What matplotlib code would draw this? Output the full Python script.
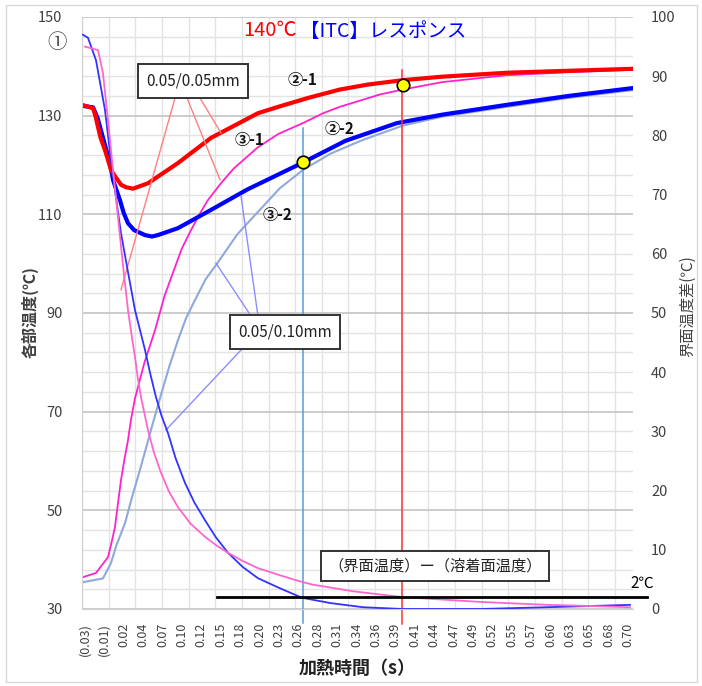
import numpy as np
import matplotlib

matplotlib.use("Agg")
import matplotlib.pyplot as plt
from matplotlib.patches import Rectangle

plt.rcParams["font.family"] = ["Noto Sans CJK JP", "DejaVu Sans"]

# ---- data (time in s) ----
# left axis: temperatures (degC)
red_t = [-0.034, -0.0192, -0.016, -0.0125, -0.009, -0.0031, 0.0, 0.0049, 0.010, 0.0184,
         0.025, 0.0345, 0.0547, 0.095, 0.1394, 0.2025, 0.2321, 0.27, 0.3127, 0.35,
         0.3974, 0.45, 0.5372, 0.62, 0.7066]
red_v = [132.2, 131.5, 130.0, 127.7, 125.5, 123.0, 121.5, 119.0, 117.8, 116.0,
         115.5, 115.2, 116.3, 120.4, 125.5, 130.5, 131.9, 133.6, 135.3, 136.3,
         137.2, 137.9, 138.7, 139.1, 139.5]

blue_t = [-0.034, -0.0192, -0.013, -0.0085, -0.003, 0.0036, 0.008, 0.017, 0.022, 0.0278,
          0.036, 0.0506, 0.06, 0.0681, 0.095, 0.1394, 0.1877, 0.263, 0.32, 0.3894,
          0.45, 0.5372, 0.62, 0.7066]
blue_v = [132.0, 131.7, 129.5, 127.0, 124.0, 120.4, 116.8, 112.9, 110.3, 108.2,
          106.8, 105.8, 105.5, 105.8, 107.2, 110.9, 115.0, 120.5, 124.9, 128.5,
          130.2, 132.2, 134.0, 135.6]

mag_t = [-0.034, -0.0152, 0.0009, 0.005, 0.0103, 0.014, 0.0184, 0.023, 0.0278, 0.032,
         0.0372, 0.05, 0.0641, 0.077, 0.091, 0.10, 0.1125, 0.125, 0.1353, 0.1528,
         0.17, 0.2025, 0.23, 0.263, 0.29, 0.3127, 0.3665, 0.3974, 0.45, 0.5372,
         0.62, 0.7066]
mag_v = [36.4, 37.3, 40.5, 43.0, 46.6, 51.0, 56.1, 60.3, 64.2, 68.5,
         72.7, 80.0, 86.5, 93.5, 99.3, 103.0, 106.8, 110.3, 112.9, 116.3,
         119.3, 123.6, 126.3, 128.5, 130.5, 131.8, 134.3, 135.3, 136.8, 138.2,
         138.8, 139.3]

lblue_t = [-0.034, -0.0058, 0.0049, 0.012, 0.0238, 0.032, 0.0412, 0.050, 0.0587, 0.0708,
           0.083, 0.095, 0.106, 0.1178, 0.132, 0.1488, 0.175, 0.2025, 0.232, 0.263,
           0.30, 0.3437, 0.3974, 0.45, 0.5372, 0.62, 0.7066]
lblue_v = [35.4, 36.2, 39.3, 42.8, 47.4, 52.0, 56.8, 61.5, 66.3, 72.7,
           79.0, 84.5, 89.0, 92.6, 96.8, 100.3, 106.0, 110.5, 115.3, 119.0,
           122.3, 125.1, 128.0, 129.8, 131.8, 133.6, 135.2]

# right axis: interface temperature difference (degC)
dblue_t = [-0.0327, -0.026, -0.0152, -0.0031, 0.0049, 0.0144, 0.0184, 0.028, 0.0372,
           0.0506, 0.058, 0.0654, 0.073, 0.0816, 0.092, 0.1044, 0.117, 0.1313, 0.146,
           0.1622, 0.182, 0.2025, 0.2321, 0.2617, 0.30, 0.3437, 0.3974, 0.5009,
           0.591, 0.7025]
dblue_v = [97.0, 96.5, 92.7, 84.3, 75.8, 67.0, 63.5, 56.8, 50.5,
           43.8, 39.6, 35.8, 32.6, 29.7, 25.4, 21.3, 18.0, 15.0, 12.1,
           9.5, 7.1, 5.2, 3.5, 1.9, 1.0, 0.3, 0.0, 0.0,
           0.3, 0.7]

dmag_t = [-0.030, -0.0125, -0.0058, 0.0009, 0.0076, 0.0144, 0.017, 0.022, 0.0278,
          0.033, 0.0372, 0.041, 0.0453, 0.0547, 0.063, 0.0722, 0.083, 0.095, 0.112,
          0.1313, 0.147, 0.1622, 0.182, 0.2025, 0.2321, 0.255, 0.2765, 0.33, 0.3974,
          0.45, 0.5009, 0.591, 0.65, 0.7025]
dmag_v = [95.0, 94.4, 90.5, 82.6, 74.2, 66.2, 63.0, 57.0, 50.5,
          46.0, 42.6, 39.0, 35.8, 30.2, 26.3, 23.0, 19.8, 17.2, 14.4,
          12.2, 10.7, 9.5, 8.1, 6.9, 5.7, 4.8, 4.1, 3.0, 2.0,
          1.6, 1.2, 0.7, 0.5, 0.3]

# highlighted points
dot_t = [0.263, 0.3974]
dot_v = [120.6, 136.2]
blue_mark_t = 0.263
red_mark_t = 0.3961
limit_diff = 2.0

tick_labels = ["(0.03)", "(0.01)", "0.02", "0.04", "0.07", "0.10", "0.12", "0.15",
               "0.18", "0.20", "0.23", "0.26", "0.28", "0.31", "0.34", "0.36",
               "0.39", "0.41", "0.44", "0.47", "0.49", "0.52", "0.55", "0.57",
               "0.60", "0.63", "0.65", "0.68", "0.70"]

# leader lines: (box point) -> (curve point), left-axis units
red_leaders = [((0.0911, 133.6), (0.0184, 94.7)),
               ((0.1071, 133.6), (0.1515, 117.0)),
               ((0.1246, 133.6), (0.1528, 126.5))]
blue_leaders = [((0.2025, 89.4), (0.1797, 113.7)),
                ((0.1931, 89.4), (0.1461, 100.1)),
                ((0.1810, 82.7), (0.0789, 66.3))]

TXT = "#404040"
XMIN, XMAX = -0.034, 0.7066

fig = plt.figure(figsize=(7.02, 6.86), dpi=100)
ax = fig.add_axes([82 / 702, 1 - 609 / 686, 551 / 702, 592 / 686])
ax2 = ax.twinx()

# grid
ax.set_xlim(XMIN, XMAX)
ax.set_ylim(30, 150)
ax2.set_ylim(0, 100)
ax.set_yticks(np.arange(30, 151, 20))
ax.set_yticks(np.arange(30, 151, 4), minor=True)
ax.set_xticks(np.arange(XMIN, XMAX, 0.03582), minor=True)
ax.grid(True, which="minor", color="#E3E3E3", lw=1.0)
ax.grid(True, which="major", axis="y", color="#C8C8C8", lw=1.3)
ax.set_axisbelow(True)
ax.tick_params(which="minor", length=0)

ax.set_xticks(np.linspace(-0.03, 0.70, len(tick_labels)))
ax.set_xticklabels(tick_labels, rotation=90, fontsize=9, color=TXT)
ax.tick_params(axis="x", which="major", length=0, pad=10)
ax.tick_params(axis="y", which="major", length=0, pad=14, labelsize=10.5, labelcolor=TXT)
ax2.set_yticks(np.arange(0, 101, 10))
ax2.tick_params(axis="y", length=0, pad=13, labelsize=10.5, labelcolor=TXT)
for a in (ax, ax2):
    for s in a.spines.values():
        s.set_visible(False)
ax.spines["bottom"].set_visible(True)
ax.spines["bottom"].set_color("#D0D0D0")
ax.spines["left"].set_visible(True)
ax.spines["left"].set_color("#D0D0D0")

# curves
ax.plot(lblue_t, lblue_v, color="#8EA9DB", lw=1.5)
ax.plot(mag_t, mag_v, color="#FF22CC", lw=1.3)
ax.plot(blue_t, blue_v, color="#0000FF", lw=3.0, solid_capstyle="round", solid_joinstyle="round")
ax.plot(red_t, red_v, color="#FF0000", lw=3.0, solid_capstyle="round", solid_joinstyle="round")
ax2.plot(dblue_t, dblue_v, color="#3333FF", lw=1.3)
ax2.plot(dmag_t, dmag_v, color="#FF66CC", lw=1.3)

# marker lines
ax.plot([blue_mark_t, blue_mark_t], [127.5, 27.2], color="#5B9BD5", lw=1.1, clip_on=False)
ax.plot([red_mark_t, red_mark_t], [139.3, 27.0], color="#FF3333", lw=1.1, clip_on=False)
ax2.plot([0.1474, 0.7254], [limit_diff, limit_diff], color="black", lw=2.0, clip_on=False)
ax.plot(dot_t, dot_v, "o", ms=9, mfc="#FFFF00", mec="black", mew=1.2, zorder=6)

for (x0, y0), (x1, y1) in red_leaders:
    ax.plot([x0, x1], [y0, y1], color="#FF8080", lw=1.0)
for (x0, y0), (x1, y1) in blue_leaders:
    ax.plot([x0, x1], [y0, y1], color="#8C8CFF", lw=1.0)

box = dict(boxstyle="square,pad=0.55", fc="white", ec="#333333", lw=1.4)
ax.text(0.1152, 137.0, "0.05/0.05mm", fontsize=11, ha="center", va="center",
        color="#222222", bbox=box, zorder=7)
ax.text(0.2388, 86.1, "0.05/0.10mm", fontsize=11, ha="center", va="center",
        color="#222222", bbox=box, zorder=7)
ax2.text(0.4404, 7.26, "（界面温度）ー（溶着面温度）", fontsize=11, ha="center", va="center",
         color="#222222", bbox=dict(boxstyle="square,pad=0.45", fc="white", ec="#333333", lw=1.4),
         zorder=7)
ax2.text(0.7187, 4.3, "2℃", fontsize=11, ha="center", va="center", clip_on=False)

for lab, tx, ty in [("②-1", 0.263, 137.2), ("③-1", 0.1918, 125.1),
                    ("②-2", 0.3127, 127.3), ("③-2", 0.2294, 109.9)]:
    ax.text(tx, ty, lab, fontsize=11, fontweight="bold", ha="center", va="center",
            color="#111111", zorder=7)

# titles / labels
fig.text(297 / 702, 1 - 31 / 686, "140℃", color="#FF0000", fontsize=14.5,
         ha="right", va="center")
fig.text(300 / 702, 1 - 31 / 686, "【ITC】レスポンス", color="#0000FF", fontsize=14,
         ha="left", va="center")
fig.text(57 / 702, 1 - 42 / 686, "①", color=TXT, fontsize=14, ha="center", va="center")
fig.text(30 / 702, 1 - 312 / 686, "各部温度(℃)", rotation=90, fontsize=11.5,
         fontweight="bold", color=TXT, ha="center", va="center")
fig.text(688 / 702, 1 - 306 / 686, "界面温度差(℃)", rotation=90, fontsize=11,
         color=TXT, ha="center", va="center")
fig.text(357 / 702, 1 - 668 / 686, "加熱時間（s）", fontsize=13, fontweight="bold",
         color="#222222", ha="center", va="center")

fig.patches.append(Rectangle((6 / 702, 4 / 686), 691 / 702, 677 / 686,
                             transform=fig.transFigure, fill=False,
                             ec="#D9D9D9", lw=1.0))

fig.savefig("out.png", dpi=100)
